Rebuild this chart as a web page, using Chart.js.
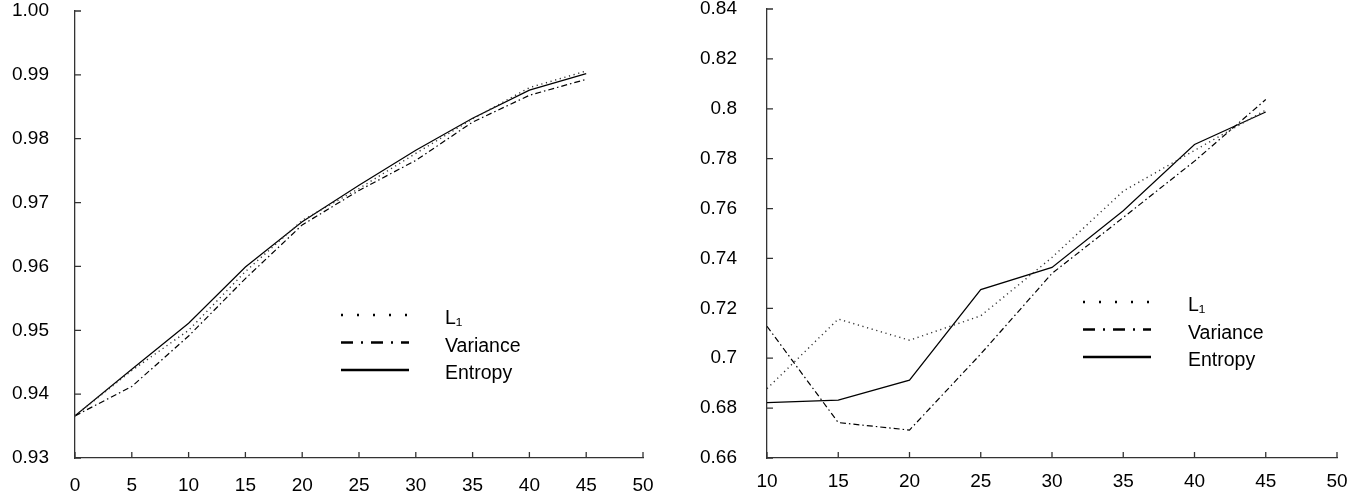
<!doctype html>
<html lang="en">
<head>
<meta charset="utf-8">
<title>L1 / Variance / Entropy</title>
<script src="https://cdn.jsdelivr.net/npm/chart.js@4.4.1/dist/chart.umd.min.js"></script>
<style>
  body { margin: 0; background: #fff; }
  #wrap { position: relative; width: 1347px; height: 498px; }
  canvas { position: absolute; top: 0; }
  #leftChart { left: 0; }
  #rightChart { left: 677px; }
</style>
</head>
<body>
<div id="wrap">
  <canvas id="leftChart" width="670" height="498"></canvas>
  <canvas id="rightChart" width="670" height="498"></canvas>
</div>
<script>
// series names
var seriesNames = ['L₁', 'Variance', 'Entropy'];

// left panel
var leftX = [0, 5, 10, 15, 20, 25, 30, 35, 40, 45];
var leftL1 = [0.9366, 0.9437, 0.9500, 0.9592, 0.9672, 0.9722, 0.9777, 0.9831, 0.9880, 0.9906];
var leftVariance = [0.9366, 0.9412, 0.9491, 0.9581, 0.9665, 0.9719, 0.9766, 0.9826, 0.9868, 0.9893];
var leftEntropy = [0.9366, 0.9439, 0.9511, 0.9599, 0.9670, 0.9727, 0.9782, 0.9832, 0.9876, 0.9902];
var leftXTicks = [0, 5, 10, 15, 20, 25, 30, 35, 40, 45, 50];
var leftYTicks = [0.93, 0.94, 0.95, 0.96, 0.97, 0.98, 0.99, 1.00];

// right panel
var rightX = [10, 15, 20, 25, 30, 35, 40, 45];
var rightL1 = [0.6878, 0.7157, 0.7072, 0.7170, 0.7404, 0.7670, 0.7833, 0.7995];
var rightVariance = [0.7128, 0.6742, 0.6712, 0.7017, 0.7340, 0.7564, 0.7790, 0.8037];
var rightEntropy = [0.6822, 0.6832, 0.6912, 0.7275, 0.7364, 0.7591, 0.7857, 0.7987];
var rightXTicks = [10, 15, 20, 25, 30, 35, 40, 45, 50];
var rightYTicks = [0.66, 0.68, 0.70, 0.72, 0.74, 0.76, 0.78, 0.80, 0.82, 0.84];

var FONT = 'Liberation Sans, Arial, Helvetica, sans-serif';
var dataDash = [[1.2, 3.6], [6, 3, 1.5, 3], []];
var keyDash = [[2, 14], [12, 8, 2, 8], []];

function pairs(xs, ys) {
  return xs.map(function (x, i) { return { x: x, y: ys[i] }; });
}

// inward tick marks on both axes
var innerTicks = {
  id: 'innerTicks',
  afterDraw: function (chart) {
    var ctx = chart.ctx, a = chart.chartArea;
    ctx.save();
    ctx.strokeStyle = '#333';
    ctx.lineWidth = 1.3;
    ctx.beginPath();
    chart.scales.x.ticks.forEach(function (t) {
      var px = chart.scales.x.getPixelForValue(t.value);
      ctx.moveTo(px, a.bottom);
      ctx.lineTo(px, a.bottom - 6);
    });
    chart.scales.y.ticks.forEach(function (t) {
      var py = chart.scales.y.getPixelForValue(t.value);
      ctx.moveTo(a.left, py);
      ctx.lineTo(a.left + 6, py);
    });
    ctx.stroke();
    ctx.restore();
  }
};

// line key drawn inside the plot
var lineKey = {
  id: 'lineKey',
  afterDraw: function (chart, args, opts) {
    var ctx = chart.ctx;
    ctx.save();
    chart.data.datasets.forEach(function (ds, i) {
      var y = opts.y + i * opts.rowGap;
      ctx.beginPath();
      ctx.setLineDash(keyDash[i]);
      ctx.lineWidth = 2.6;
      ctx.strokeStyle = '#000';
      ctx.moveTo(opts.x, y);
      ctx.lineTo(opts.x + opts.len, y);
      ctx.stroke();
      ctx.setLineDash([]);
      ctx.fillStyle = '#000';
      ctx.font = '19.5px ' + FONT;
      ctx.textBaseline = 'middle';
      ctx.fillText(ds.label, opts.textX, y + 4);
    });
    ctx.restore();
  }
};

function makeChart(id, xs, series, xTicks, yTicks, fmt, box) {
  var datasets = series.map(function (ys, i) {
    return {
      label: seriesNames[i],
      data: pairs(xs, ys),
      borderColor: i === 0 ? '#333' : '#000',
      borderWidth: i === 0 ? 1.4 : 1.2,
      borderDash: dataDash[i],
      pointRadius: 0,
      tension: 0,
      fill: false
    };
  });
  return new Chart(document.getElementById(id), {
    type: 'line',
    data: { datasets: datasets },
    options: {
      responsive: false,
      animation: false,
      layout: { padding: { top: box.top, right: box.right, left: 0, bottom: 0 } },
      plugins: {
        legend: { display: false },
        tooltip: { enabled: false },
        lineKey: box.key
      },
      scales: {
        x: {
          type: 'linear',
          min: xTicks[0], max: xTicks[xTicks.length - 1],
          afterBuildTicks: function (s) { s.ticks = xTicks.map(function (v) { return { value: v }; }); },
          afterFit: function (s) { s.height = 40; s.paddingLeft = 0; s.paddingRight = 0; },
          grid: { drawOnChartArea: false, drawTicks: false },
          border: { display: true, color: '#333', width: 1.3 },
          ticks: { color: '#000', font: { family: FONT, size: 19 }, padding: box.xPad, maxRotation: 0 }
        },
        y: {
          type: 'linear',
          min: yTicks[0], max: yTicks[yTicks.length - 1],
          afterBuildTicks: function (s) { s.ticks = yTicks.map(function (v) { return { value: v }; }); },
          afterFit: function (s) { s.width = box.left; s.paddingTop = 0; s.paddingBottom = 0; },
          grid: { drawOnChartArea: false, drawTicks: false },
          border: { display: true, color: '#333', width: 1.3 },
          ticks: { color: '#000', font: { family: FONT, size: 19 }, padding: box.yPad, callback: fmt }
        }
      }
    },
    plugins: [innerTicks, lineKey]
  });
}

makeChart('leftChart', leftX, [leftL1, leftVariance, leftEntropy], leftXTicks, leftYTicks,
  function (v) { return v.toFixed(2); },
  { top: 11, right: 27, left: 75, xPad: 16, yPad: 26,
    key: { x: 341, y: 315, rowGap: 27.5, len: 68, textX: 445 } });

makeChart('rightChart', rightX, [rightL1, rightVariance, rightEntropy], rightXTicks, rightYTicks,
  function (v) { return String(Number(v.toFixed(2))); },
  { top: 9, right: 10, left: 90, xPad: 12, yPad: 30,
    key: { x: 406, y: 302, rowGap: 27.5, len: 68, textX: 511 } });
</script>
</body>
</html>
